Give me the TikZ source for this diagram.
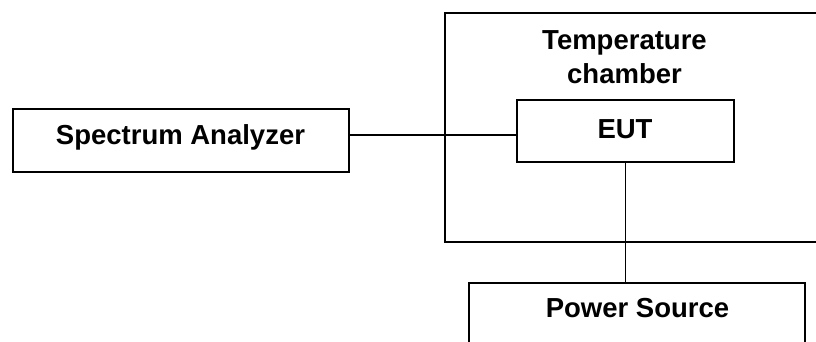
\documentclass[tikz,border=0pt]{standalone}
\usepackage{fontspec}
\setmainfont{Liberation Sans}
\begin{document}
\begin{tikzpicture}[x=1pt,y=-1pt,
  box/.style={draw=black,line width=1.5pt,rectangle,inner sep=0pt,anchor=north west},
  lbl/.style={font=\bfseries\fontsize{27.5}{34}\selectfont,inner sep=0pt,anchor=base,align=center},
  wire/.style={draw=black,line width=1.5pt}]
  \useasboundingbox (0,0) rectangle (816,341);
  \clip (0,0) rectangle (816,341);
  % outer enclosure
  \node[box,minimum width=390pt,minimum height=229pt] (chamber) at (444,12) {};
  \node[lbl] (chamber-text) at (624.5,83) {Temperature\\chamber};
  % instruments
  \node[box,minimum width=336pt,minimum height=63pt] (sa) at (12,108) {};
  \node[lbl] (sa-text) at (180.5,144) {Spectrum Analyzer};
  \node[box,minimum width=217pt,minimum height=62pt] (eut) at (516,99) {};
  \node[lbl] (eut-text) at (625,138) {EUT};
  \node[box,minimum width=336pt,minimum height=90pt] (ps) at (468,282) {};
  \node[lbl] (ps-text) at (637.5,317) {Power Source};
  % connections
  \coordinate (rf) at (0,135);
  \draw[wire] (sa.east |- rf) -- (eut.west |- rf);
  \draw[wire] (eut.south) -- (ps.north -| eut.south);
\end{tikzpicture}
\end{document}
